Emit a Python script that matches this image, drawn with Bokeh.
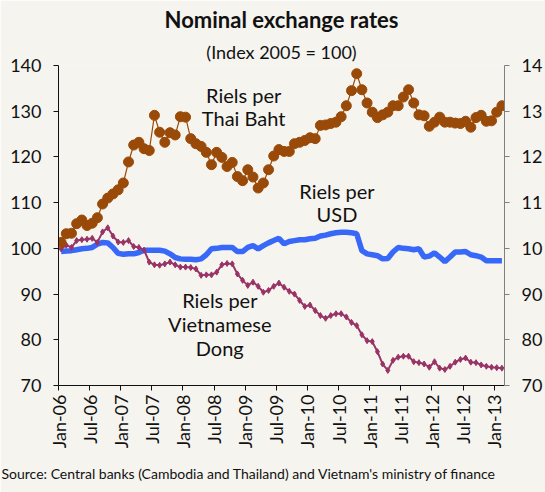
import numpy as np
from bokeh.plotting import figure
from bokeh.models import Range1d, LinearAxis, FixedTicker, Title, Label
from bokeh.embed import file_html
from bokeh.resources import INLINE

# ---- data ----
tick_labels = ["Jan-06", "Jul-06", "Jan-07", "Jul-07", "Jan-08", "Jul-08", "Jan-09", "Jul-09",
               "Jan-10", "Jul-10", "Jan-11", "Jul-11", "Jan-12", "Jul-12", "Jan-13"]
y_ticks = [70, 80, 90, 100, 110, 120, 130, 140]
right_labels = ["70", "80", "90", "10", "11", "12", "13", "14"]

thai_baht = [101.3, 103.2, 103.3, 105.4, 106.2, 105.0, 105.5, 106.7, 109.7, 111.0,
             111.9, 112.8, 114.3, 118.9, 122.6, 123.2, 121.8, 121.4, 129.1, 125.4,
             123.2, 125.3, 124.8, 128.8, 128.7, 124.0, 122.9, 122.3, 121.0,
             118.3, 121.0, 119.9, 117.9, 118.8, 115.7, 114.8, 117.2, 115.6, 113.2,
             114.3, 117.2, 120.2, 121.6, 121.2, 121.2, 122.9, 123.2, 123.6, 124.2,
             124.0, 126.9, 127.0, 127.3, 127.6, 128.8, 131.2, 134.5, 138.2,
             134.7, 131.8, 129.8, 128.6, 129.2, 129.8, 131.2, 131.2, 133.1, 134.7,
             131.8, 129.2, 129.0, 126.7, 127.6, 128.7, 127.6, 127.6, 127.4, 127.3,
             127.8, 126.5, 128.6, 129.1, 127.8, 127.9, 129.8, 131.2]

usd = [99.3, 99.4, 99.5, 99.7, 99.9, 100.0, 100.2, 100.9, 101.3, 101.2,
       100.2, 98.9, 98.7, 98.8, 98.8, 99.1, 99.6, 99.6, 99.6, 99.6,
       99.4, 98.8, 98.0, 97.7, 97.6, 97.6, 97.5, 97.7, 98.6,
       99.9, 100.0, 100.2, 100.2, 100.2, 99.3, 99.3, 100.2, 100.6, 99.9,
       100.6, 101.2, 101.7, 102.2, 101.0, 101.5, 101.7, 101.9, 101.9, 102.1,
       102.2, 102.7, 102.9, 103.2, 103.4, 103.5, 103.5, 103.4, 103.2,
       99.5, 98.8, 98.6, 98.4, 97.7, 97.8, 99.2, 100.2, 100.0, 99.9,
       99.7, 99.9, 98.1, 98.3, 99.0, 98.1, 97.1, 98.1, 99.2, 99.2,
       99.3, 98.6, 98.4, 98.1, 97.3, 97.3, 97.3, 97.3]

vietnamese_dong = [99.9, 100.7, 100.2, 101.7, 101.9, 102.0, 102.2, 101.3, 103.6, 104.5,
                   102.7, 101.4, 101.3, 101.7, 100.4, 100.2, 99.6, 97.0, 96.4, 96.3,
                   96.6, 97.0, 96.4, 95.9, 95.9, 95.8, 95.5, 94.1, 94.2,
                   94.2, 94.8, 96.4, 96.7, 96.6, 94.4, 93.0, 91.9, 92.6, 91.7,
                   90.4, 90.8, 91.7, 92.4, 91.5, 90.6, 90.0, 88.6, 87.3, 87.6,
                   86.4, 85.3, 84.7, 85.3, 85.7, 85.7, 85.0, 83.8, 83.1,
                   81.1, 79.8, 79.6, 77.4, 74.7, 73.3, 75.5, 76.2, 76.4, 76.4,
                   75.2, 75.0, 74.7, 74.0, 75.2, 73.8, 73.5, 74.2, 75.1, 75.7,
                   76.0, 75.1, 75.0, 74.5, 74.2, 74.0, 73.9, 73.8]

months = np.arange(len(thai_baht)) + 0.5
x_ticks = list(range(0, 6 * len(tick_labels), 6))

FONT = "Lato"
BG = "#F6F4EF"
ORANGE = "#9A4A08"
BLUE = "#3868F8"
PURPLE = "#993366"
INK = "#111111"

p = figure(width=545, height=492, x_range=Range1d(0, 86), y_range=Range1d(70, 140),
           output_backend="svg", toolbar_location=None,
           min_border_left=58, min_border_right=38, min_border_top=65, min_border_bottom=107,
           background_fill_color=BG, border_fill_color=BG, outline_line_color=None)
p.xgrid.visible = False
p.ygrid.visible = False

# left axis
ya = p.yaxis[0]
ya.ticker = FixedTicker(ticks=y_ticks)
ya.major_label_text_font = FONT
ya.major_label_text_font_size = "18px"
ya.major_label_text_color = INK
ya.axis_line_color = INK
ya.major_tick_line_color = INK
ya.major_tick_out = 5
ya.major_tick_in = 0
ya.minor_tick_line_color = None
ya.major_label_standoff = 12

# right axis
p.extra_y_ranges = {"right": Range1d(70, 140)}
ra = LinearAxis(y_range_name="right", ticker=FixedTicker(ticks=y_ticks),
                major_label_overrides={t: s for t, s in zip(y_ticks, right_labels)})
ra.major_label_text_font = FONT
ra.major_label_text_font_size = "18px"
ra.major_label_text_color = INK
ra.axis_line_color = "#808080"
ra.major_tick_line_color = "#808080"
ra.major_tick_out = 5
ra.major_tick_in = 0
ra.minor_tick_line_color = None
ra.major_label_standoff = 12
p.add_layout(ra, "right")

# x axis
xa = p.xaxis[0]
xa.ticker = FixedTicker(ticks=x_ticks)
xa.major_label_overrides = {t: s for t, s in zip(x_ticks, tick_labels)}
xa.major_label_orientation = np.pi / 2
xa.major_label_text_font = FONT
xa.major_label_text_font_size = "18px"
xa.major_label_text_color = INK
xa.axis_line_color = INK
xa.major_tick_line_color = INK
xa.major_tick_out = 5
xa.major_tick_in = 0
xa.minor_tick_line_color = None
xa.major_label_standoff = 4

# series
p.line(months, usd, line_width=5.5, color=BLUE)
p.line(months, vietnamese_dong, line_width=2, color=PURPLE)
p.scatter(months, vietnamese_dong, marker="diamond", size=6, color=PURPLE)
p.line(months, thai_baht, line_width=1.2, color=ORANGE)
p.scatter(months, thai_baht, marker="circle", size=10, color=ORANGE)

# series labels
def lab(x, y, t):
    p.add_layout(Label(x=x, y=y, text=t, text_align="center", text_baseline="middle",
                       text_font=FONT, text_font_size="20px", text_color=INK))

lab(35.7, 133.6, "Riels per")
lab(35.7, 128.6, "Thai Baht")
lab(53.7, 112.6, "Riels per")
lab(53.7, 107.6, "USD")
lab(31.1, 88.6, "Riels per")
lab(31.1, 83.4, "Vietnamese")
lab(31.1, 78.1, "Dong")

# titles
sub = Title(text="(Index 2005 = 100)", align="center", offset=-4, text_font=FONT,
            text_font_size="18px", text_font_style="normal", text_color=INK, standoff=6)
p.add_layout(sub, "above")
main = Title(text="Nominal exchange rates", align="center", offset=-4, text_font=FONT,
             text_font_size="22px", text_font_style="bold", text_color=INK, standoff=6)
p.add_layout(main, "above")
src = Title(text="Source: Central banks  (Cambodia and Thailand) and  Vietnam's ministry of finance",
            align="left", offset=-57, text_font=FONT, text_font_size="14px",
            text_font_style="normal", text_color=INK, standoff=22)
p.add_layout(src, "below")

open("out.html", "w").write(file_html(p, INLINE))
